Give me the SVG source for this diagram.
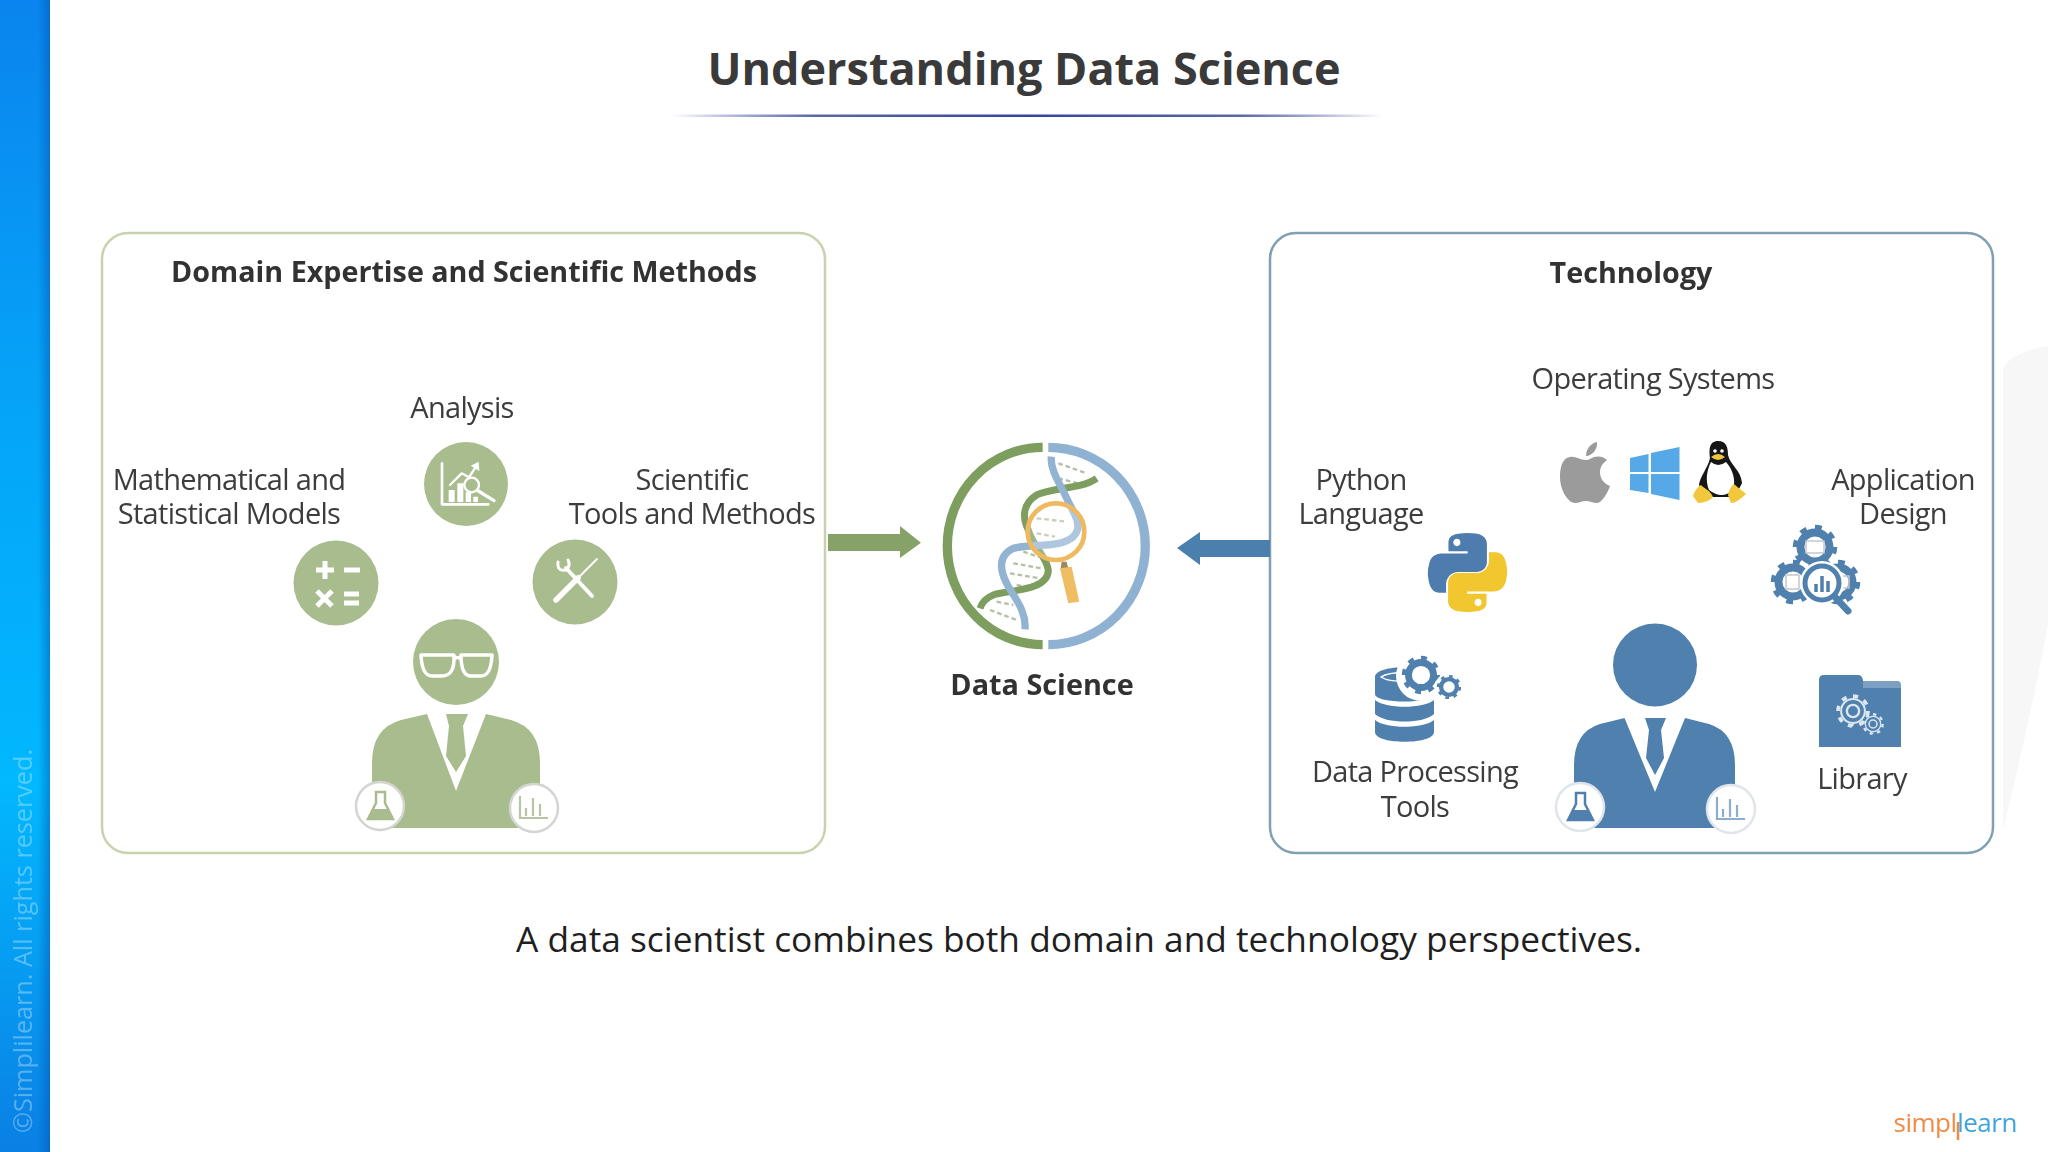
<svg xmlns="http://www.w3.org/2000/svg" xmlns:xlink="http://www.w3.org/1999/xlink" width="2048" height="1152" viewBox="0 0 2048 1152">
<style>
text{font-family:"Open Sans","Noto Sans","DejaVu Sans",sans-serif;text-anchor:middle}
.h{font-weight:700;fill:#333;font-size:28.700px}
.l{fill:#3c3c3c;font-size:29px;letter-spacing:-.7px}
.panel{fill:#fff;stroke-width:2.5}
.ring{fill:#fff;stroke:#d3d5d0;stroke-width:2.5}
.w{fill:none;stroke:#fff;stroke-linecap:round;stroke-linejoin:round}
.b{filter:url(#soft)}
</style>
<defs>
<filter id="soft" x="-5%" y="-5%" width="110%" height="110%"><feGaussianBlur stdDeviation=".55"/></filter>
<linearGradient id="strip" x1="0" y1="0" x2="0" y2="1"><stop offset="0" stop-color="#0a84ee"/><stop offset=".35" stop-color="#05a4f8"/><stop offset=".68" stop-color="#02b8fe"/><stop offset="1" stop-color="#0a7fe4"/></linearGradient>
<linearGradient id="edge" x1="0" y1="0" x2="1" y2="0"><stop offset="0" stop-color="#0050b0" stop-opacity="0"/><stop offset="1" stop-color="#0050a8" stop-opacity=".45"/></linearGradient>
<linearGradient id="rule" x1="0" y1="0" x2="1" y2="0"><stop offset="0" stop-color="#3a4aa5" stop-opacity="0"/><stop offset=".2" stop-color="#5a68a8"/><stop offset=".5" stop-color="#34449f"/><stop offset=".8" stop-color="#5a68a8"/><stop offset="1" stop-color="#3a4aa5" stop-opacity="0"/></linearGradient>
<g id="gear"><circle r="6.6" fill="none" stroke="currentColor" stroke-width="3.6"/><circle r="9" fill="none" stroke="currentColor" stroke-width="2.2" pathLength="20" stroke-dasharray="1.1 1.4"/></g>
<g id="gearline"><circle r="3.6" fill="none" stroke="currentColor" stroke-width="1.4"/><circle r="7" fill="none" stroke="currentColor" stroke-width="1.2"/><circle r="8.8" fill="none" stroke="currentColor" stroke-width="2.2" pathLength="20" stroke-dasharray="1.1 1.4"/></g>
<path id="py" d="M54.9 0C50.3 0 46 .4 42.1 1.1 30.7 3.1 28.6 7.3 28.6 15.1V25.4H55.5V28.8H18.5C10.7 28.8 3.9 33.5 1.7 42.5-.8 52.8-.9 59.2 1.7 69.9 3.6 77.9 8.2 83.5 16 83.5H25.3V71.2C25.3 62.3 33 54.4 42.1 54.4H69C76.4 54.4 82.4 48.2 82.4 40.7V15.1C82.4 7.8 76.2 2.3 69 1.1 64.4 .3 59.6 0 54.9 0ZM40.4 8.2C43.2 8.2 45.4 10.5 45.4 13.3 45.4 16.1 43.2 18.4 40.4 18.4 37.6 18.4 35.4 16.1 35.4 13.3 35.4 10.5 37.6 8.2 40.4 8.2Z" fill-rule="evenodd"/>
</defs>

<rect width="2048" height="1152" fill="#fff"/>
<g id="strip">
<rect width="50" height="1152" fill="url(#strip)"/>
<rect x="38" width="12" height="1152" fill="url(#edge)"/>
<text class="b" transform="translate(32 941) rotate(-90)" style="font-size:25.200px;fill:#fff;fill-opacity:.32">©Simplilearn. All rights reserved.</text>
</g>
<path id="swoosh" d="M2048 346Q2012 352 2003 368V830Q2030 720 2048 625Z" fill="#f7f7f7"/>

<g id="title">
<text x="1024" y="85" style="font-size:45px;font-weight:700;fill:#3a3a3a">Understanding Data Science</text>
<rect x="672" y="114.500" width="710" height="2.500" fill="url(#rule)"/>
</g>

<g id="domain-panel" class="b">
<rect class="panel" x="102" y="233" width="723" height="620" rx="26" stroke="#c8d3ae"/>
<text class="h" x="464" y="282">Domain Expertise and Scientific Methods</text>
</g>
<g id="tech-panel" class="b">
<rect class="panel" x="1270" y="233" width="723" height="620" rx="26" stroke="#7f9fb5"/>
<text class="h" x="1631" y="283">Technology</text>
</g>

<g id="analysis" class="b">
<text class="l" x="462" y="418">Analysis</text>
<circle cx="466" cy="484" r="42" fill="#a8bc8e"/>
<g transform="translate(420 435) scale(.3333)">
<path class="w" stroke-width="8" d="M66 85V208H205"/>
<path d="M86 165h18v36H86zM112 145h18v56h-18zM137 172h16v29h-16zM160 185h14v16h-14z" fill="#fff"/>
<path class="w" stroke-width="7" d="M90 150L125 115 147 127 168 95"/>
<path d="M152 92L176 80 178 108Z" fill="#fff"/>
<circle cx="155" cy="150" r="22" fill="#a8bc8e" stroke="#fff" stroke-width="7"/>
<path class="w" stroke-width="10" d="M175 168L222 197"/>
</g>
</g>

<g id="math" class="b">
<text class="l" x="229" y="490">Mathematical and</text>
<text class="l" x="229" y="524">Statistical Models</text>
<circle cx="336" cy="583" r="42.500" fill="#a8bc8e"/>
<path d="M316 570h18M325 561v18M344 570h16M317 591l15 15M332 591l-15 15M344 594h15M344 603h15" stroke="#fff" stroke-width="5" fill="none"/>
</g>

<g id="tools" class="b">
<text class="l" x="692" y="490">Scientific</text>
<text class="l" x="692" y="524">Tools and Methods</text>
<circle cx="575" cy="582" r="42.500" fill="#a8bc8e"/>
<path class="w" stroke-width="5.500" d="M556 600L578 578"/>
<path class="w" stroke-width="2" d="M578 578L597 559"/>
<path class="w" stroke-width="4" d="M566 568L592 596"/>
<path class="w" stroke-width="3" d="M558 562Q557 572 566 570Q571 566 568 560"/>
</g>

<g id="domain-person" class="b">
<circle cx="456" cy="662" r="43" fill="#a8bc8e"/>
<path class="w" stroke-width="3.500" d="M421 655H454Q455 676 442 676H432Q422 676 421 655ZM461 655H492Q491 676 481 676H471Q461 676 461 655ZM454 659Q457.500 656 461 659"/>
<path d="M427 714L401 720Q372 728 372 763V828H540V763Q540 728 511 720L486 714L456 791Z" fill="#a8bc8e"/>
<path d="M446 714H468L463 726L466 756L456 772L446 756L449 726Z" fill="#a8bc8e"/>
<circle class="ring" cx="380" cy="806" r="24"/>
<path d="M376 792H385V803L393 819H368L376 803Z" fill="#fff" stroke="#a8bc8e" stroke-width="2.500"/>
<path d="M372 809H389L393 820H368Z" fill="#a8bc8e"/>
<circle class="ring" cx="534" cy="808" r="24"/>
<path d="M520 796V818H548M526 808V816M533 798V816M540 804V816" fill="none" stroke="#b7c5a4" stroke-width="2.200"/>
</g>

<g id="data-science" class="b" transform="translate(820 420) scale(.3333)">
<path d="M668 82A286 296 0 0 0 668 674" fill="none" stroke="#7d9e5e" stroke-width="28"/>
<path d="M685 82A291 296 0 0 1 685 674" fill="none" stroke="#8fb2d2" stroke-width="28"/>
<g fill="none" stroke="#b4c0a4" stroke-width="7" stroke-dasharray="14 9">
<path d="M715 130L800 160M715 175L775 190M650 295L740 305M650 340L705 350M610 395L670 415M580 430L665 445M570 460L660 475M590 495L640 505M530 545L580 555M510 570L590 600"/>
</g>
<path d="M830 175C780 210 700 200 650 225C610 250 605 290 625 330C640 380 680 410 685 450C685 515 560 510 520 525C495 535 485 550 480 565" fill="none" stroke="#7d9e5e" stroke-width="21"/>
<path d="M694 110C690 150 720 190 745 245C765 285 790 320 760 350C720 385 640 370 580 385C540 405 535 440 560 490C580 530 620 570 615 628" fill="none" stroke="#93b3d3" stroke-width="22"/>
<circle cx="708" cy="335" r="85" fill="#fff" fill-opacity=".25" stroke="#eeb95f" stroke-width="14"/>
<path d="M725 425L740 425L745 445H722Z" fill="#a08a5a"/>
<path d="M720 445L755 440L778 545L745 550Z" fill="#efbd62"/>
</g>

<g id="connectors" class="b">
<path id="arrow-green" d="M828 534H900V526L921 542.700L900 558V551H828Z" fill="#86a267"/>
<path id="arrow-blue" d="M1270 540H1200V532L1177 548L1200 565V557H1270Z" fill="#4c7fad"/>
</g>
<text class="h b" x="1042" y="695" style="font-size:28.800px">Data Science</text>

<g id="os" class="b">
<text class="l" x="1653" y="389">Operating Systems</text>
<path d="M1586 460C1580 460 1575 456 1570 457C1562 458 1560 468 1560 477C1560 490 1568 503 1575 503C1579 503 1582 501 1586 501C1590 501 1593 503 1597 503C1602 503 1608 492 1610 486C1603 483 1600 478 1600 472C1600 467 1603 463 1607 460C1603 456 1598 456 1594 457C1591 458 1589 460 1586 460ZM1586 456C1586 449 1591 443 1597 442C1598 449 1592 456 1586 456Z" fill="#9b9b9b"/>
<path d="M1630 458L1648.500 454V472H1630ZM1651 453L1679.500 447V472H1651ZM1630 474H1648.500V493L1630 490ZM1651 474H1679.500V500L1651 494Z" fill="#56a8e6"/>
<path d="M1718 441C1709 441 1709 450 1710 458C1708 468 1700 476 1699 485L1705 497H1735L1742 483C1741 470 1730 465 1728 455C1728 447 1726 441 1718 441Z" fill="#151515"/>
<path d="M1711 462Q1718 468 1726 462C1733 470 1736 480 1733 490Q1722 500 1709 490C1705 480 1707 470 1711 462Z" fill="#fff"/>
<circle cx="1715" cy="451" r="1.800" fill="#fff"/><circle cx="1722" cy="451" r="1.800" fill="#fff"/>
<path d="M1711 457Q1718 451 1725 457Q1718 463 1711 457Z" fill="#efc63e"/>
<path d="M1693 496C1695 490 1698 487 1701 485C1705 489 1711 491 1713 497C1710 501 1702 503 1698 503ZM1728 495C1729 490 1731 486 1734 484C1737 487 1742 490 1746 494C1742 498 1736 503 1731 503Z" fill="#f2c73c"/>
</g>

<g id="python" class="b">
<text class="l" x="1361" y="490">Python</text>
<text class="l" x="1361" y="524">Language</text>
<use xlink:href="#py" href="#py" transform="translate(1428 533) scale(.715)" fill="#4f7cae"/>
<use xlink:href="#py" href="#py" transform="translate(1507 612) rotate(180) scale(.715)" fill="#f1c62f"/>
</g>

<g id="app-design" class="b" style="color:#4f80ae">
<text class="l" x="1903" y="490">Application</text>
<text class="l" x="1903" y="524">Design</text>
<use href="#gear" transform="translate(1815 547) scale(2.200)"/>
<use href="#gear" transform="translate(1793 582) scale(2.200)"/>
<use href="#gear" transform="translate(1838 582) scale(2.200)"/>
<path d="M1806 541h18v12h-18zM1786 575h13v14h-13zM1841 576h8v12h-8z" fill="none" stroke="#c4c8cc" stroke-width="1.500"/>
<circle cx="1822" cy="583" r="22" fill="#fff"/>
<circle cx="1822" cy="583" r="17" fill="#fff" stroke="#4f80ae" stroke-width="5"/>
<path d="M1816 584v8M1822 576v16M1828 581v11" stroke="#4f80ae" stroke-width="3.500"/>
<path d="M1836 598L1848 611" stroke="#4f80ae" stroke-width="7" stroke-linecap="round"/>
</g>

<g id="data-tools" class="b" style="color:#4f80ae">
<text class="l" x="1415" y="782">Data Processing</text>
<text class="l" x="1415" y="817">Tools</text>
<path d="M1375 677C1375 664 1434 664 1434 677V694C1434 704 1375 704 1375 694ZM1375 700C1385 709 1424 709 1434 700V714C1424 724 1385 724 1375 714ZM1375 720C1385 729 1424 729 1434 720V732C1434 745 1375 745 1375 732Z" fill="#4f80ae"/>
<path d="M1381 677C1390 671 1420 671 1428 677C1420 683 1390 683 1381 677Z" fill="#4f80ae" stroke="#fff" stroke-width="1.500"/>
<circle cx="1421" cy="676" r="25" fill="#fff"/>
<use href="#gear" transform="translate(1421 675) scale(1.900)"/>
<circle cx="1449" cy="687" r="14" fill="#fff"/>
<use href="#gear" transform="translate(1449 687) scale(1.200)"/>
</g>

<g id="library" class="b">
<text class="l" x="1862" y="789">Library</text>
<path d="M1819 680Q1819 675 1824 675H1858Q1862 675 1863 680V688H1901V747H1819Z" fill="#4f80ae"/>
<path d="M1863 681H1897Q1901 681 1901 685V688H1863Z" fill="#4f80ae" opacity=".75"/>
<g style="color:#dbe6ef"><use href="#gearline" transform="translate(1853 711) scale(1.700)"/><use href="#gearline" transform="translate(1873 724) scale(1.100)"/></g>
</g>

<g id="tech-person" class="b">
<ellipse cx="1655" cy="665" rx="42" ry="41.500" fill="#4f80ae"/>
<path d="M1624.500 718L1600 724Q1574 732 1574 765V828H1735V765Q1735 732 1709 724L1685 718L1655 792Z" fill="#4f80ae"/>
<path d="M1645 718H1666L1661 730L1664 758L1655 775L1646 758L1649 730Z" fill="#4f80ae"/>
<circle cx="1580" cy="807" r="24" fill="#fff" stroke="#dfe5ea" stroke-width="2.500"/>
<path d="M1576 793H1585V804L1593 820H1568L1576 804Z" fill="#fff" stroke="#4f80ae" stroke-width="2.500"/>
<path d="M1572 810H1589L1593 821H1568Z" fill="#4f80ae"/>
<circle cx="1731" cy="809" r="24" fill="#fff" stroke="#dfe5ea" stroke-width="2.500"/>
<path d="M1717 797V819H1745M1723 809V817M1730 799V817M1737 805V817" fill="none" stroke="#8aaecb" stroke-width="2.200"/>
</g>

<text id="caption" x="1079" y="952" style="font-size:35.300px;fill:#1f1f1f">A data scientist combines both domain and technology perspectives.</text>

<g id="logo" class="b">
<text x="1925" y="1132" style="font-size:26px;fill:#f08b45;letter-spacing:-.5px">simpl</text>
<path d="M1958 1122V1140" stroke="#f08b45" stroke-width="2.500"/>
<text x="1987" y="1132" style="font-size:26px;fill:#3ea5dc;letter-spacing:-.5px">learn</text>
</g>
</svg>
